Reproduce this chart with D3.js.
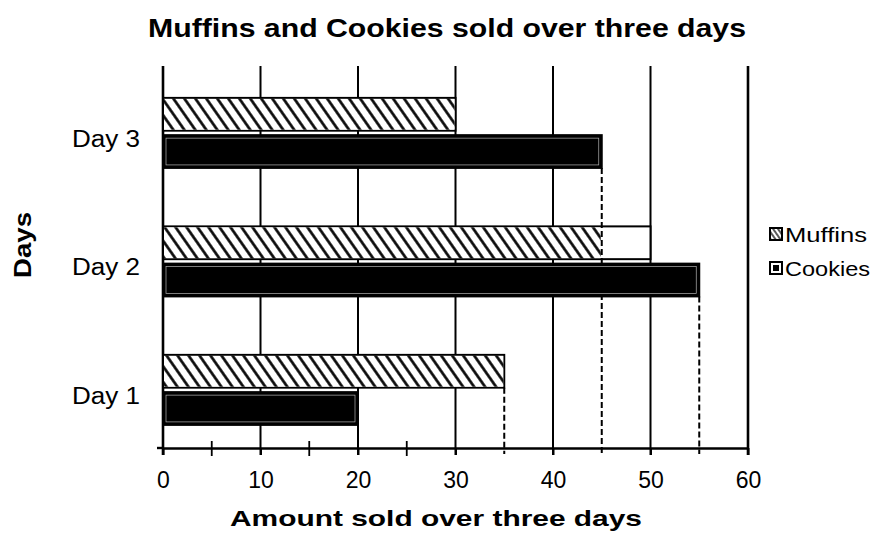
<!DOCTYPE html>
<html>
<head>
<meta charset="utf-8">
<script src="https://cdn.jsdelivr.net/npm/d3@7"></script>
<style>
  html, body { margin: 0; padding: 0; background: #fff; }
  svg { display: block; font-family: "Liberation Sans", Arial, sans-serif; }
</style>
</head>
<body>
<svg id="chart" width="881" height="538"></svg>
<script>
// ---- data ----
const days = ["Day 1", "Day 2", "Day 3"];
const series = ["Muffins", "Cookies"];
const muffins = [35, 45, 30];       // hatched fill extent
const muffinsBox = [35, 50, 30];    // drawn outline extent of muffin bars
const cookies = [20, 55, 45];
const xTicks = [0, 10, 20, 30, 40, 50, 60];
const minorTicks = [5, 15, 25];
const guideDays = ["Day 1", "Day 3", "Day 2"];
const guideSeries = ["Muffins", "Cookies", "Cookies"];
const guideValues = [35, 45, 55];

const svg = d3.select("#chart");
const plotL = 163, plotR = 748, plotT = 66, plotB = 448;

const x = d3.scaleLinear().domain([0, 60]).range([plotL, plotR]);
const y = d3.scaleBand().domain(days.slice().reverse()).range([plotT, plotB])
  .paddingInner(0.455).paddingOuter(0.214).align(0.58);
const sub = d3.scaleBand().domain(series).range([0, y.bandwidth()]).paddingInner(0.12);

// hatch pattern
const defs = svg.append("defs");
const pat = defs.append("pattern").attr("id", "hatch")
  .attr("patternUnits", "userSpaceOnUse").attr("width", 9).attr("height", 9)
  .attr("patternTransform", "rotate(-35)");
pat.append("rect").attr("width", 9).attr("height", 9).attr("fill", "#fff");
pat.append("line").attr("x1", 4.5).attr("x2", 4.5).attr("y1", -1).attr("y2", 10)
  .attr("stroke", "#000").attr("stroke-width", 2.6);
const pat2 = defs.append("pattern").attr("id", "hatchSmall")
  .attr("patternUnits", "userSpaceOnUse").attr("width", 4).attr("height", 4)
  .attr("patternTransform", "rotate(-35)");
pat2.append("rect").attr("width", 4).attr("height", 4).attr("fill", "#fff");
pat2.append("line").attr("x1", 2).attr("x2", 2).attr("y1", -1).attr("y2", 5)
  .attr("stroke", "#000").attr("stroke-width", 1.3);

// title
svg.append("text").attr("x", 148).attr("y", 37)
  .attr("font-size", 26).attr("font-weight", "bold")
  .attr("textLength", 598).attr("lengthAdjust", "spacingAndGlyphs")
  .text("Muffins and Cookies sold over three days");

// gridlines (majors > 0)
svg.append("g").selectAll("line").data(xTicks.filter(d => d > 0)).join("line")
  .attr("x1", d => x(d)).attr("x2", d => x(d))
  .attr("y1", plotT).attr("y2", plotB + 7)
  .attr("stroke", "#000").attr("stroke-width", d => d === 60 ? 2.6 : 2);

// left axis line
svg.append("line").attr("x1", x(0)).attr("x2", x(0)).attr("y1", plotT).attr("y2", plotB + 7)
  .attr("stroke", "#000").attr("stroke-width", 2.6);

// bars
const g = svg.append("g");
days.forEach((day, i) => {
  const y0 = y(day);
  g.append("rect")
    .attr("x", x(0)).attr("y", y0 + sub("Muffins"))
    .attr("width", x(muffinsBox[i]) - x(0)).attr("height", sub.bandwidth())
    .attr("fill", "#fff").attr("stroke", "#000").attr("stroke-width", 2);
  g.append("rect")
    .attr("x", x(0) + 1).attr("y", y0 + sub("Muffins") + 1)
    .attr("width", x(muffins[i]) - x(0) - 2).attr("height", sub.bandwidth() - 2)
    .attr("fill", "url(#hatch)");
  g.append("rect")
    .attr("x", x(0)).attr("y", y0 + sub("Cookies"))
    .attr("width", x(cookies[i]) - x(0)).attr("height", sub.bandwidth())
    .attr("fill", "#000").attr("stroke", "#000").attr("stroke-width", 2);
  g.append("rect")
    .attr("x", x(0) + 3).attr("y", y0 + sub("Cookies") + 3)
    .attr("width", x(cookies[i]) - x(0) - 6).attr("height", sub.bandwidth() - 6)
    .attr("fill", "none").attr("stroke", "#fff").attr("stroke-width", 0.7).attr("opacity", 0.7);
});

// dashed guide lines
svg.append("g").selectAll("line").data(guideValues).join("line")
  .attr("x1", d => x(d)).attr("x2", d => x(d))
  .attr("y1", (d, i) => y(guideDays[i]) + sub(guideSeries[i]) + sub.bandwidth())
  .attr("y2", plotB + 6)
  .attr("stroke", "#000").attr("stroke-width", 2).attr("stroke-dasharray", "6,3");

// x axis
const xAxis = d3.axisBottom(x).tickValues(xTicks).tickSize(7).tickSizeOuter(0)
  .tickPadding(17).tickFormat(d3.format("d"));
const xa = svg.append("g").attr("transform", `translate(0,${plotB})`).call(xAxis);
xa.select(".domain").attr("stroke-width", 2.4);
xa.selectAll(".tick line").attr("stroke-width", 2);
xa.selectAll(".tick text").attr("font-size", 23).attr("font-family", "Liberation Sans, Arial, sans-serif")
  .attr("fill", "#000").attr("dy", "0.71em");
svg.append("line").attr("x1", x(0) - 6).attr("x2", x(0)).attr("y1", plotB).attr("y2", plotB)
  .attr("stroke", "#000").attr("stroke-width", 2.4);
svg.append("g").selectAll("line").data(minorTicks).join("line")
  .attr("x1", d => x(d)).attr("x2", d => x(d))
  .attr("y1", plotB - 7).attr("y2", plotB + 8)
  .attr("stroke", "#000").attr("stroke-width", 1.8);

// y axis labels
const yAxis = d3.axisLeft(y).tickSize(0).tickPadding(23);
const ya = svg.append("g").attr("transform", `translate(${x(0)},0)`).call(yAxis);
ya.select(".domain").remove();
ya.selectAll(".tick text").attr("font-size", 23).attr("font-family", "Liberation Sans, Arial, sans-serif")
  .attr("fill", "#000").attr("dy", "0.6em")
  .attr("textLength", 68).attr("lengthAdjust", "spacingAndGlyphs");

// axis titles
svg.append("text").attr("x", 230).attr("y", 526)
  .attr("font-size", 22).attr("font-weight", "bold")
  .attr("textLength", 412).attr("lengthAdjust", "spacingAndGlyphs")
  .text("Amount sold over three days");
svg.append("text").attr("transform", "translate(31,245) rotate(-90)")
  .attr("text-anchor", "middle").attr("font-size", 24).attr("font-weight", "bold")
  .attr("textLength", 66).attr("lengthAdjust", "spacingAndGlyphs")
  .text("Days");

// legend
const legendY = [228, 262];
const lg = svg.append("g");
series.forEach((s, i) => {
  lg.append("rect").attr("x", 770).attr("y", legendY[i]).attr("width", 12).attr("height", 12)
    .attr("fill", i === 0 ? "url(#hatchSmall)" : "#fff").attr("stroke", "#000").attr("stroke-width", 2);
  if (i === 1) {
    lg.append("rect").attr("x", 773).attr("y", legendY[i] + 3).attr("width", 6).attr("height", 6).attr("fill", "#000");
  }
  lg.append("text").attr("x", 785).attr("y", legendY[i] + 14)
    .attr("font-size", 21).attr("textLength", i === 0 ? 82 : 85).attr("lengthAdjust", "spacingAndGlyphs")
    .text(s);
});
</script>
</body>
</html>
